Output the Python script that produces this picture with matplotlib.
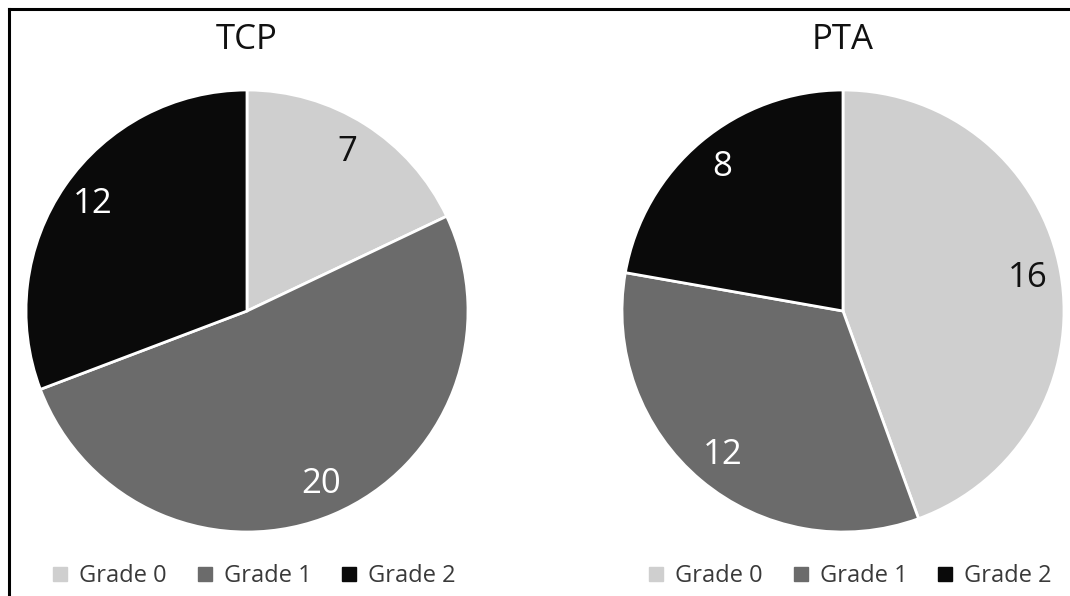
import matplotlib
matplotlib.use("Agg")
import matplotlib.pyplot as plt
from matplotlib.lines import Line2D

categories = ["Grade 0", "Grade 1", "Grade 2"]
titles = ["TCP", "PTA"]
tcp_values = [7, 20, 12]
pta_values = [16, 12, 8]

colors = ["#cfcfcf", "#6b6b6b", "#0a0a0a"]
label_colors = [["#111111", "white", "white"], ["#111111", "white", "white"]]

plt.rcParams['font.family'] = ['Open Sans', 'DejaVu Sans']

fig = plt.figure(figsize=(10.70, 5.96), dpi=100)
W, H = 1070, 596

def add_pie(cx, cy, r, values, title, lcols):
    ax = fig.add_axes([(cx - r) / W, 1 - (cy + r) / H, 2 * r / W, 2 * r / H])
    wedges, texts = ax.pie(values, colors=colors, startangle=90, counterclock=False,
                           labels=[str(v) for v in values], labeldistance=0.85,
                           wedgeprops=dict(edgecolor="white", linewidth=2),
                           textprops=dict(fontsize=25))
    for t, c in zip(texts, lcols):
        t.set_color(c)
        t.set_ha("center")
        t.set_va("center")
    ax.set_xlim(-1, 1)
    ax.set_ylim(-1, 1)
    ax.set_aspect("equal")
    ax.axis("off")
    fig.text(cx / W, 1 - 40 / H, title, ha="center", va="center", fontsize=25, color="#111111")
    handles = [Line2D([], [], marker="s", linestyle="none", markersize=9.5,
                      markerfacecolor=c, markeredgecolor=c) for c in colors]
    fig.legend(handles, categories, loc="center", bbox_to_anchor=((cx + 5) / W, 1 - 576 / H),
               ncol=3, frameon=False, fontsize=17, labelcolor="#3a3a3a",
               handletextpad=0.3, columnspacing=1.1, handlelength=1.0)
    return ax

add_pie(247, 311, 221, tcp_values, titles[0], label_colors[0])
add_pie(843, 311, 221, pta_values, titles[1], label_colors[1])

# frame lines (left and top)
fig.add_artist(Line2D([9 / W, 9 / W], [0, 1 - 9 / H], transform=fig.transFigure, color="black", linewidth=2.2))
fig.add_artist(Line2D([9 / W, 1], [1 - 9 / H, 1 - 9 / H], transform=fig.transFigure, color="black", linewidth=2.2))

fig.savefig("out.png", dpi=100, facecolor="white")
